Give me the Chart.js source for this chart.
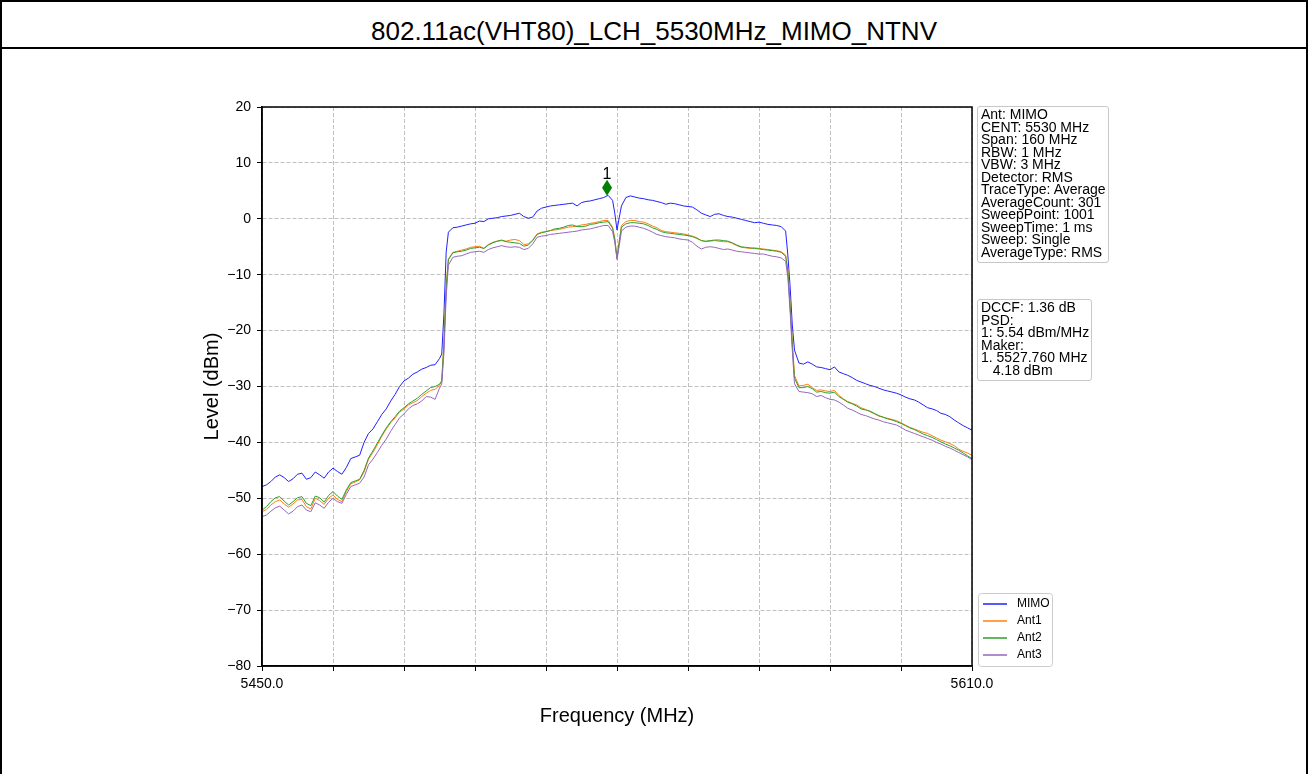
<!DOCTYPE html>
<html>
<head>
<meta charset="utf-8">
<script src="https://cdn.jsdelivr.net/npm/chart.js@4.4.1/dist/chart.umd.min.js"></script>
<style>
  html, body { margin: 0; padding: 0; background: #fff; }
  body { width: 1308px; height: 774px; position: relative; overflow: hidden; font-family: "Liberation Sans", Arial, sans-serif; color: #000; }
  #title { position: absolute; left: 0; top: 0; width: 1308px; height: 49px; box-sizing: border-box; border: 2px solid #000; text-align: center; font-size: 26px; line-height: 26px; padding-top: 16px; }
  #body-frame { position: absolute; left: 0; top: 49px; width: 1308px; height: 740px; box-sizing: border-box; border-left: 2px solid #000; border-right: 2px solid #000; }
  canvas { position: absolute; left: 0; top: 0; }
  .info { position: absolute; background: #fff; border: 1px solid #c8c8c8; border-radius: 3px; font-size: 14px; line-height: 12.5px; white-space: pre; box-sizing: border-box; padding: 1px 0 0 3px; }
</style>
</head>
<body>
<div id="title">802.11ac(VHT80)_LCH_5530MHz_MIMO_NTNV</div>
<div id="body-frame"></div>
<canvas id="spectrum" width="1308" height="774"></canvas>
<div class="info" id="setup" style="left:977px; top:106px; width:132px; height:157px;"></div>
<div class="info" id="result" style="left:977px; top:299px; width:115px; height:82px;"></div>
<script>
// sweep frequencies (MHz)
const freqs = [
  5450, 5451, 5452, 5453, 5454, 5455, 5456, 5457, 5458, 5459,
  5460, 5461, 5462, 5463, 5464, 5465, 5466, 5467, 5468, 5469,
  5470, 5471, 5472, 5473, 5474, 5475, 5476, 5477, 5478, 5479,
  5480, 5481, 5482, 5483, 5484, 5485, 5486, 5487, 5488, 5489,
  5490, 5490.5, 5491, 5491.5,
  5492, 5493, 5494, 5495, 5496, 5497, 5498, 5499, 5500, 5501,
  5502, 5503, 5504, 5505, 5506, 5507, 5508, 5509, 5510, 5511,
  5512, 5513, 5514, 5515, 5516, 5517, 5518, 5519, 5520, 5521,
  5522, 5523, 5524, 5525, 5526, 5527, 5528, 5529,
  5529.5, 5530, 5530.5,
  5531, 5532, 5533, 5534, 5535, 5536, 5537, 5538, 5539, 5540,
  5541, 5542, 5543, 5544, 5545, 5546, 5547, 5548, 5549, 5550,
  5551, 5552, 5553, 5554, 5555, 5556, 5557, 5558, 5559, 5560,
  5561, 5562, 5563, 5564, 5565, 5566, 5567, 5568,
  5568.5, 5569, 5569.5,
  5570, 5571, 5572, 5573, 5574, 5575, 5576, 5577, 5578, 5579,
  5580, 5581, 5582, 5583, 5584, 5585, 5586, 5587, 5588, 5589,
  5590, 5591, 5592, 5593, 5594, 5595, 5596, 5597, 5598, 5599,
  5600, 5601, 5602, 5603, 5604, 5605, 5606, 5607, 5608, 5609,
  5610
];

// levels in dBm, one per frequency
const mimoLevel = [
  -47.9, -47.6, -47.0, -46.2, -45.8, -46.3, -47.0, -46.5, -45.7, -45.5,
  -46.6, -46.3, -45.3, -45.8, -46.4, -45.3, -44.6, -45.2, -45.7, -44.5,
  -42.9, -42.6, -42.3, -40.0, -38.4, -37.6, -36.3, -35.0, -34.0, -32.6,
  -31.4, -30.0, -29.0, -28.5, -27.8, -27.4, -26.9, -26.6, -26.2, -26.1,
  -25.0, -24.2, -17.0, -6.0,
  -2.4, -1.6, -1.5, -1.3, -1.1, -0.9, -0.8, -0.4, -0.5, 0.0,
  0.1, 0.2, 0.4, 0.5, 0.6, 0.8, 1.0, 0.4, 0.1, 0.3,
  1.4, 1.9, 2.1, 2.3, 2.4, 2.5, 2.6, 2.7, 2.8, 2.3,
  2.9, 3.1, 3.2, 3.4, 3.6, 3.8, 4.2, 3.3,
  1.0, -2.0, 0.2,
  2.3, 3.8, 4.1, 3.9, 3.7, 3.6, 3.4, 3.3, 3.1, 2.9,
  2.6, 2.8, 2.7, 2.5, 2.3, 2.2, 2.1, 1.6, 1.0, 0.7,
  0.4, 0.8, 0.9, 0.6, 0.4, 0.3, 0.1, -0.1, -0.3, -0.5,
  -0.7, -0.6, -0.8, -1.0, -1.1, -1.2, -1.4, -2.2,
  -6.5, -12.0, -19.0,
  -23.5, -25.8, -26.0, -25.6, -26.0, -26.5, -26.6, -26.8, -27.0, -26.5,
  -27.4, -27.7, -28.0, -28.4, -28.9, -29.2, -29.5, -29.8, -30.0, -30.3,
  -30.6, -30.8, -31.0, -31.2, -31.5, -31.9, -32.2, -32.4, -32.8, -33.3,
  -33.8, -34.0, -34.3, -34.8, -35.0, -35.4, -36.0, -36.5, -37.0, -37.4,
  -37.8
];

const ant1Level = [
  -52.4, -52.0, -51.2, -50.6, -50.3, -51.0, -51.6, -51.0, -50.3, -50.2,
  -51.5, -51.9, -50.0, -50.4, -51.1, -50.0, -49.4, -50.2, -50.6, -48.8,
  -47.4, -47.1, -46.7, -45.3, -43.0, -41.8, -40.4, -38.9, -37.6, -36.5,
  -35.6, -34.6, -34.0, -33.3, -32.9, -32.5, -31.8, -31.2, -30.7, -30.5,
  -29.8, -29.0, -22.0, -12.0,
  -7.2, -6.0, -5.8, -5.6, -5.4, -5.1, -5.0, -4.9, -5.3, -4.6,
  -4.2, -4.0, -3.9, -4.0, -3.8, -3.7, -3.9, -4.6, -4.5, -3.8,
  -2.7, -2.4, -2.3, -2.1, -2.0, -1.9, -1.7, -1.5, -1.4, -1.3,
  -1.1, -1.0, -0.8, -0.7, -0.5, -0.3, -0.3, -1.5,
  -3.5, -7.1, -4.0,
  -1.2, -0.5, -0.3, -0.3, -0.5, -0.6, -0.9, -1.3, -1.6, -2.1,
  -2.3, -2.4, -2.5, -2.6, -2.7, -2.9, -3.1, -3.4, -3.9, -4.1,
  -4.0, -3.9, -4.0, -4.1, -4.1, -4.4, -4.8, -5.1, -5.2, -5.3,
  -5.2, -5.3, -5.4, -5.5, -5.6, -5.7, -5.9, -6.5,
  -9.0, -15.0, -22.0,
  -28.0, -29.9, -29.8, -29.6, -30.2, -30.7, -30.6, -30.8, -30.9, -30.7,
  -31.6, -32.2, -32.7, -33.0, -33.3, -33.8, -34.1, -34.5, -34.9, -35.3,
  -35.5, -35.7, -35.9, -36.1, -36.5, -36.9, -37.3, -37.6, -37.9, -38.2,
  -38.4, -38.8, -39.2, -39.6, -39.9, -40.2, -40.6, -41.2, -41.6, -41.9,
  -42.3
];

const ant2Level = [
  -52.1, -51.5, -50.6, -49.9, -49.7, -50.5, -51.2, -50.6, -49.9, -49.7,
  -50.9, -51.3, -49.6, -49.9, -50.7, -49.5, -48.8, -49.6, -50.2, -48.5,
  -47.2, -46.9, -46.6, -45.0, -42.8, -41.5, -40.1, -38.7, -37.4, -36.3,
  -35.4, -34.4, -33.8, -33.1, -32.6, -32.1, -31.4, -30.8, -30.2, -30.0,
  -29.6, -29.0, -22.5, -12.5,
  -7.3, -6.1, -5.9, -5.8, -5.6, -5.3, -5.2, -5.1, -5.3, -4.7,
  -4.3, -4.0, -3.8, -4.1, -4.2, -4.3, -4.4, -4.9, -4.7, -3.9,
  -2.8, -2.5, -2.3, -2.1, -1.8, -1.7, -1.5, -1.2, -1.1, -1.4,
  -1.4, -1.3, -1.0, -0.9, -0.7, -0.6, -0.5, -1.7,
  -3.7, -7.0, -4.2,
  -1.5, -0.9, -0.7, -0.7, -0.8, -0.9, -1.2, -1.6, -1.9, -2.3,
  -2.5, -2.6, -2.7, -2.8, -2.9, -3.0, -3.2, -3.5, -3.9, -4.0,
  -3.9, -3.8, -3.8, -3.9, -4.0, -4.3, -4.7, -5.0, -5.1, -5.2,
  -5.3, -5.4, -5.5, -5.6, -5.7, -5.8, -6.0, -6.7,
  -9.5, -15.5, -22.5,
  -28.5, -30.2, -30.2, -30.0, -30.4, -31.0, -30.9, -31.1, -31.2, -31.0,
  -31.8, -32.3, -32.8, -33.1, -33.5, -34.0, -34.2, -34.4, -34.8, -35.2,
  -35.5, -35.8, -36.0, -36.3, -36.6, -37.0, -37.4, -37.7, -38.1, -38.5,
  -38.8, -39.1, -39.5, -39.9, -40.3, -40.6, -41.0, -41.4, -41.9, -42.4,
  -42.9
];

const ant3Level = [
  -53.3, -53.0, -52.3, -51.7, -51.4, -52.1, -52.8, -52.3, -51.5, -51.2,
  -52.1, -52.4, -50.8, -51.2, -51.8, -50.7, -50.0, -50.6, -50.9, -49.3,
  -47.9, -47.6, -47.3, -46.2, -44.0, -43.0, -41.8, -40.5, -39.4, -38.0,
  -36.8, -35.6, -34.9, -34.0, -33.4, -33.1, -32.6, -31.8, -31.9, -32.3,
  -30.3, -29.6, -24.0, -14.0,
  -8.3, -6.9, -6.7, -6.6, -6.3, -6.0, -5.9, -5.8, -6.0, -5.5,
  -5.2, -5.0, -4.8, -5.0, -5.1, -5.0, -5.1, -5.5, -5.3, -4.5,
  -3.3, -3.1, -3.0, -2.8, -2.7, -2.6, -2.5, -2.4, -2.3, -2.2,
  -2.0, -1.9, -1.8, -1.6, -1.4, -1.2, -1.2, -2.3,
  -4.2, -7.3, -4.8,
  -2.2, -1.5, -1.3, -1.3, -1.5, -1.7, -2.0, -2.4, -2.8, -3.0,
  -3.2, -3.3, -3.4, -3.6, -3.7, -3.8, -4.2, -4.9, -5.4, -5.1,
  -5.0, -5.1, -5.3, -5.5, -5.4, -5.6, -5.8, -5.9, -6.0, -6.1,
  -6.2, -6.3, -6.3, -6.5, -6.7, -6.8, -7.0, -7.6,
  -10.5, -16.5, -23.5,
  -29.5, -30.9, -31.0, -31.1, -31.3, -31.8, -31.6, -32.0, -32.3, -32.4,
  -32.8, -33.3, -33.9, -34.2, -34.6, -35.0, -35.2, -35.5, -35.8, -36.0,
  -36.3, -36.5, -36.7, -36.9, -37.3, -37.8, -38.1, -38.4, -38.7, -39.0,
  -39.3, -39.6, -40.0, -40.3, -40.7, -41.0, -41.4, -41.8, -42.2, -42.6,
  -43.1
];

const seriesNames = ['MIMO', 'Ant1', 'Ant2', 'Ant3'];
const seriesLevels = [mimoLevel, ant1Level, ant2Level, ant3Level];
const seriesColors = ['#2020ff', '#ff7f0e', '#2ca02c', '#9467bd'];

const xTickValues = [5450, 5466, 5482, 5498, 5514, 5530, 5546, 5562, 5578, 5594, 5610];
const xTickLabels = ['5450.0', '', '', '', '', '', '', '', '', '', '5610.0'];

// marker 1 (PSD peak)
const markerFreq = 5527.760;
const markerLevel = 5.54;
const markerName = '1';

const setupLines = [
  'Ant: MIMO', 'CENT: 5530 MHz', 'Span: 160 MHz', 'RBW: 1 MHz', 'VBW: 3 MHz',
  'Detector: RMS', 'TraceType: Average', 'AverageCount: 301', 'SweepPoint: 1001',
  'SweepTime: 1 ms', 'Sweep: Single', 'AverageType: RMS'
];
const resultLines = [
  'DCCF: 1.36 dB', 'PSD:', '1: 5.54 dBm/MHz', 'Maker:', '1. 5527.760 MHz', '   4.18 dBm'
];

document.getElementById('setup').textContent = setupLines.join('\n');
document.getElementById('result').textContent = resultLines.join('\n');

Chart.defaults.font.family = "'Liberation Sans', Arial, sans-serif";
Chart.defaults.color = '#000';

const fmtLevel = v => (v < 0 ? '\u2212' + Math.abs(v) : String(v));

// frame, marker and legend drawn on top of the traces
const overlay = {
  id: 'overlay',
  afterDraw(chart) {
    const ctx = chart.ctx;
    const a = chart.chartArea;
    ctx.save();
    ctx.strokeStyle = '#000';
    ctx.lineWidth = 1.5;
    ctx.strokeRect(a.left, a.top, a.right - a.left, a.bottom - a.top);

    const mx = chart.scales.x.getPixelForValue(markerFreq);
    const my = chart.scales.y.getPixelForValue(markerLevel);
    ctx.fillStyle = '#007f00';
    ctx.beginPath();
    ctx.moveTo(mx, my - 8);
    ctx.lineTo(mx + 5, my);
    ctx.lineTo(mx, my + 8);
    ctx.lineTo(mx - 5, my);
    ctx.closePath();
    ctx.fill();
    ctx.fillStyle = '#000';
    ctx.font = "16px 'Liberation Sans', Arial, sans-serif";
    ctx.textAlign = 'center';
    ctx.textBaseline = 'alphabetic';
    ctx.fillText(markerName, mx, my - 9);

    // legend box
    const lx = 978, ly = 593, lw = 74, lh = 73;
    ctx.fillStyle = '#fff';
    ctx.strokeStyle = '#cccccc';
    ctx.lineWidth = 1;
    ctx.beginPath();
    ctx.roundRect(lx + 0.5, ly + 0.5, lw, lh, 3);
    ctx.fill();
    ctx.stroke();
    ctx.font = "12px 'Liberation Sans', Arial, sans-serif";
    ctx.textAlign = 'left';
    ctx.textBaseline = 'middle';
    chart.data.datasets.forEach((ds, i) => {
      const y = 604 + i * 17;
      ctx.strokeStyle = ds.borderColor;
      ctx.lineWidth = 1.5;
      ctx.beginPath();
      ctx.moveTo(983, y);
      ctx.lineTo(1007, y);
      ctx.stroke();
      ctx.fillStyle = '#000';
      ctx.fillText(ds.label, 1017, y);
    });
    ctx.restore();
  }
};

const datasets = seriesNames.map((name, k) => ({
  label: name,
  data: freqs.map((f, i) => ({ x: f, y: seriesLevels[k][i] })),
  borderColor: seriesColors[k],
  borderWidth: 1,
  pointRadius: 0,
  tension: 0,
  order: seriesNames.length - k
}));

const gridStyle = { color: '#b0b0b0', lineWidth: 0.8, tickColor: '#000', tickLength: 5, tickWidth: 1 };

new Chart(document.getElementById('spectrum'), {
  type: 'line',
  data: { datasets },
  options: {
    responsive: false,
    animation: false,
    devicePixelRatio: 1,
    layout: { padding: { left: 200, top: 107, right: 336, bottom: 46 } },
    plugins: { legend: { display: false }, tooltip: { enabled: false } },
    scales: {
      x: {
        type: 'linear',
        min: 5450,
        max: 5610,
        afterBuildTicks: s => { s.ticks = xTickValues.map(v => ({ value: v })); },
        afterFit: s => { s.height = 62; },
        ticks: { callback: (v, i) => xTickLabels[i], font: { size: 14 }, padding: 5, maxRotation: 0, autoSkip: false },
        grid: gridStyle,
        border: { display: true, color: '#000', width: 1.5, dash: [4, 2] },
        title: { display: true, text: 'Frequency (MHz)', font: { size: 20 }, padding: { top: 0, bottom: 0 } }
      },
      y: {
        min: -80,
        max: 20,
        afterFit: s => { s.width = 62; },
        ticks: { stepSize: 10, callback: v => fmtLevel(v), font: { size: 14 }, padding: 6 },
        grid: gridStyle,
        border: { display: true, color: '#000', width: 1.5, dash: [4, 2] },
        title: { display: true, text: 'Level (dBm)', font: { size: 20 }, padding: { top: 0, bottom: 0 } }
      }
    }
  },
  plugins: [overlay]
});
</script>
</body>
</html>
